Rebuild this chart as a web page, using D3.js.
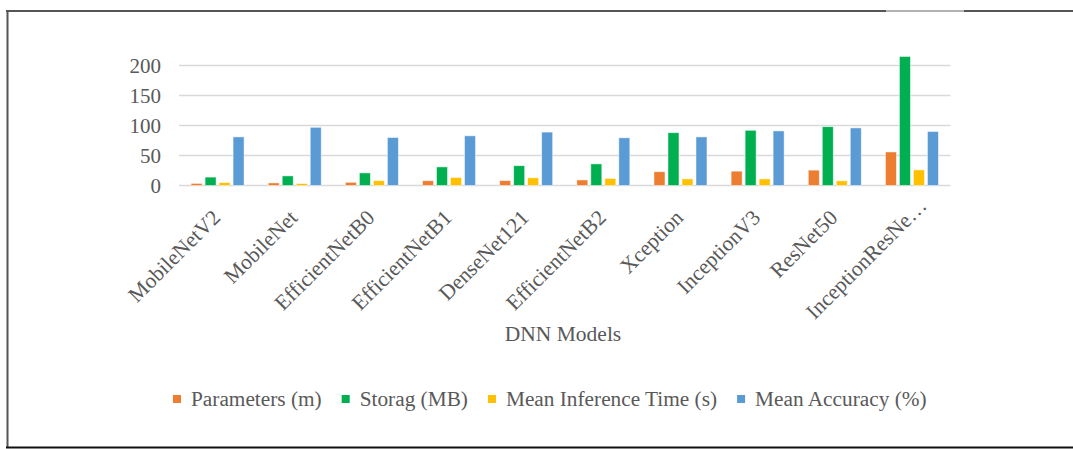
<!DOCTYPE html>
<html>
<head>
<meta charset="utf-8">
<script src="https://cdn.jsdelivr.net/npm/d3@7"></script>
<style>
  html, body { margin: 0; padding: 0; background: #fff; }
  svg { display: block; font-family: "Liberation Serif", "Times New Roman", serif; }
</style>
</head>
<body>
<div id="chart"></div>
<script>
const models = ["MobileNetV2", "MobileNet", "EfficientNetB0", "EfficientNetB1", "DenseNet121",
  "EfficientNetB2", "Xception", "InceptionV3", "ResNet50", "InceptionResNe…"];
const seriesNames = ["Parameters (m)", "Storag (MB)", "Mean Inference Time (s)", "Mean Accuracy (%)"];
const seriesColors = ["#ED7D31", "#00B050", "#FFC000", "#5B9BD5"];

const parameters = [3.5, 4.3, 5.3, 7.9, 8.1, 9.2, 22.9, 23.9, 25.6, 55.9];
const storage = [14, 16, 21, 31, 33, 36, 88, 92, 98, 215];
const inferenceTime = [4.8, 3.2, 8, 13.3, 12.8, 11.7, 11, 11, 7.8, 26];
const accuracy = [81, 97, 80, 82.8, 89, 79.5, 81, 91, 96, 90];

const yTicks = [0, 50, 100, 150, 200];
const xTitle = "DNN Models";

const W = 1073, H = 449;
const plot = { left: 179, right: 950.5, top: 65.5, bottom: 185.5 };
const serif = "Liberation Serif";

const svg = d3.select("#chart").append("svg")
  .attr("width", W)
  .attr("height", H);

// frame around the picture
svg.append("line").attr("x1", 6).attr("x2", 886).attr("y1", 11).attr("y2", 11)
  .attr("stroke", "#555").attr("stroke-width", 2);
svg.append("line").attr("x1", 886).attr("x2", 964).attr("y1", 11).attr("y2", 11)
  .attr("stroke", "#666").attr("stroke-width", 1);
svg.append("line").attr("x1", 964).attr("x2", W).attr("y1", 11).attr("y2", 11)
  .attr("stroke", "#555").attr("stroke-width", 2);
svg.append("line").attr("x1", 7.5).attr("x2", 7.5).attr("y1", 10).attr("y2", 448)
  .attr("stroke", "#555").attr("stroke-width", 2);
svg.append("line").attr("x1", 6).attr("x2", W).attr("y1", 447.5).attr("y2", 447.5)
  .attr("stroke", "#111").attr("stroke-width", 2);

const y = d3.scaleLinear().domain([0, 200]).range([plot.bottom, plot.top]);
const x0 = d3.scaleBand().domain(models).range([plot.left, plot.right]);
const x1 = d3.scaleBand().domain(seriesNames).range([-26.5, 26.5]).paddingInner(3 / 14);

// gridlines
svg.append("g")
  .selectAll("line")
  .data(yTicks)
  .join("line")
  .attr("x1", plot.left)
  .attr("x2", plot.right)
  .attr("y1", d => y(d))
  .attr("y2", d => y(d))
  .attr("stroke", "#d9d9d9")
  .attr("stroke-width", 1.6);

// y axis labels
const yAxis = d3.axisLeft(y).tickValues(yTicks).tickSize(0).tickPadding(18);
const gy = svg.append("g")
  .attr("transform", `translate(${plot.left},0)`)
  .call(yAxis);
gy.select(".domain").remove();
gy.selectAll("text")
  .attr("font-family", serif)
  .attr("font-size", 21)
  .attr("fill", "#595959");

// bars
const table = models.map((m, i) => ({
  model: m,
  values: [parameters[i], storage[i], inferenceTime[i], accuracy[i]]
}));

const groups = svg.append("g")
  .selectAll("g")
  .data(table)
  .join("g")
  .attr("transform", d => `translate(${x0(d.model) + x0.bandwidth() / 2},0)`);

groups.selectAll("rect")
  .data(d => d.values.map((v, k) => ({ key: seriesNames[k], value: v, color: seriesColors[k] })))
  .join("rect")
  .attr("x", d => x1(d.key))
  .attr("width", x1.bandwidth())
  .attr("y", d => y(d.value))
  .attr("height", d => y(0) - y(d.value))
  .attr("fill", d => d.color)
  .attr("stroke", "#fff")
  .attr("stroke-opacity", 0.6)
  .attr("stroke-width", 0.8);

// x labels, rotated (the cut label sits further along its own line)
svg.append("g")
  .selectAll("text")
  .data(models)
  .join("text")
  .attr("transform", d => `translate(${x0(d) + x0.bandwidth() / 2 + 4},219) rotate(-45)`)
  .attr("dx", d => d.endsWith("…") ? 17 : 0)
  .attr("text-anchor", "end")
  .attr("font-family", serif)
  .attr("font-size", 21.5)
  .attr("fill", "#595959")
  .text(d => d);

// axis title
svg.append("text")
  .attr("x", 563)
  .attr("y", 341)
  .attr("text-anchor", "middle")
  .attr("font-family", serif)
  .attr("font-size", 21.5)
  .attr("fill", "#595959")
  .text(xTitle);

// legend
const legend = svg.append("g").attr("transform", "translate(173,0)");
let lx = 0;
seriesNames.forEach((name, k) => {
  const item = legend.append("g").attr("transform", `translate(${lx},0)`);
  item.append("rect")
    .attr("x", 0).attr("y", 395)
    .attr("width", 8).attr("height", 8)
    .attr("fill", seriesColors[k]);
  const t = item.append("text")
    .attr("x", 18)
    .attr("y", 406)
    .attr("font-family", serif)
    .attr("font-size", 21.3)
    .attr("fill", "#595959")
    .text(name);
  lx += 18 + t.node().getComputedTextLength() + 20;
});
</script>
</body>
</html>
